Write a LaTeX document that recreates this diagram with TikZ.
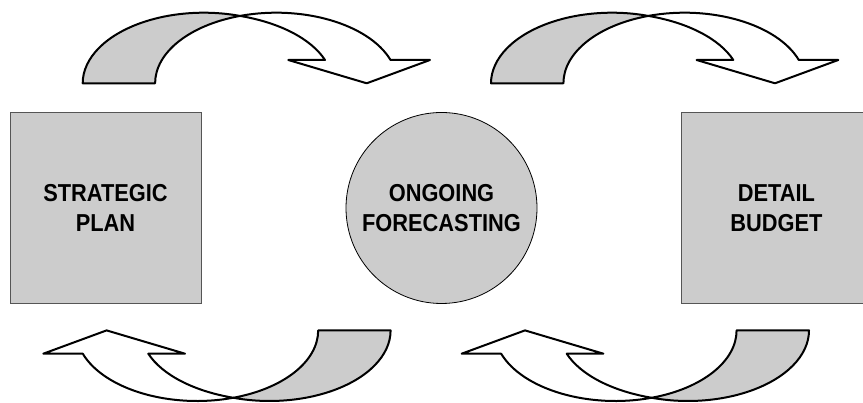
\documentclass[tikz,border=0pt]{standalone}
\usepackage{fontspec}
\newfontfamily\labelfont{Liberation Sans}[FakeStretch=0.89]
\definecolor{shade}{HTML}{CCCCCC}
\definecolor{edgegray}{HTML}{555555}
\tikzset{
  blockbox/.style={draw=edgegray, line width=0.9pt, fill=shade, minimum width=191pt, minimum height=191pt, inner sep=0pt},
  roundbox/.style={circle, draw=black, line width=0.8pt, fill=shade, minimum size=191pt, inner sep=0pt},
  labeltext/.style={align=center, font=\labelfont\bfseries\fontsize{24.5}{30}\selectfont, text=black},
  arrowline/.style={draw=black, line width=2pt, line join=round},
  bandarrow/.pic={
    % grey back part of the band
    \filldraw[arrowline, fill=shade] (-157.3,0)
      arc[start angle=180, end angle=72.6, x radius=121.1pt, y radius=70.6pt]
      arc[start angle=107.4, end angle=180, x radius=121.1pt, y radius=70.6pt]
      -- cycle;
    % white front part with head
    \filldraw[arrowline, fill=white] (0,67.37)
      arc[start angle=107.4, end angle=19.3, x radius=121.1pt, y radius=70.6pt]
      -- (190,23.3) -- (126.7,0) -- (48.3,23.3) -- (85,23.3)
      arc[start angle=19.3, end angle=72.65, x radius=131.5pt, y radius=70.6pt]
      -- cycle;
  }
}
\begin{document}
\begin{tikzpicture}[x=1pt, y=1pt]
  \useasboundingbox (0,0) rectangle (863,403);
  \clip (0,0) rectangle (863,403);
  \node[blockbox] (plan) at (105.5,195) {};
  \node[labeltext] at (plan.center) {STRATEGIC\\PLAN};
  \node[roundbox] (fore) at (441.5,195) {};
  \node[labeltext] at (fore.center) {ONGOING\\FORECASTING};
  \node[blockbox] (budget) at (776.5,195) {};
  \node[labeltext] at (budget.center) {DETAIL\\BUDGET};
  \pic at (240,319.7) {bandarrow};
  \pic at (648.3,319.7) {bandarrow};
  \pic[rotate=180] at (233.3,72.6) {bandarrow};
  \pic[rotate=180] at (651.7,72.6) {bandarrow};
\end{tikzpicture}
\end{document}
